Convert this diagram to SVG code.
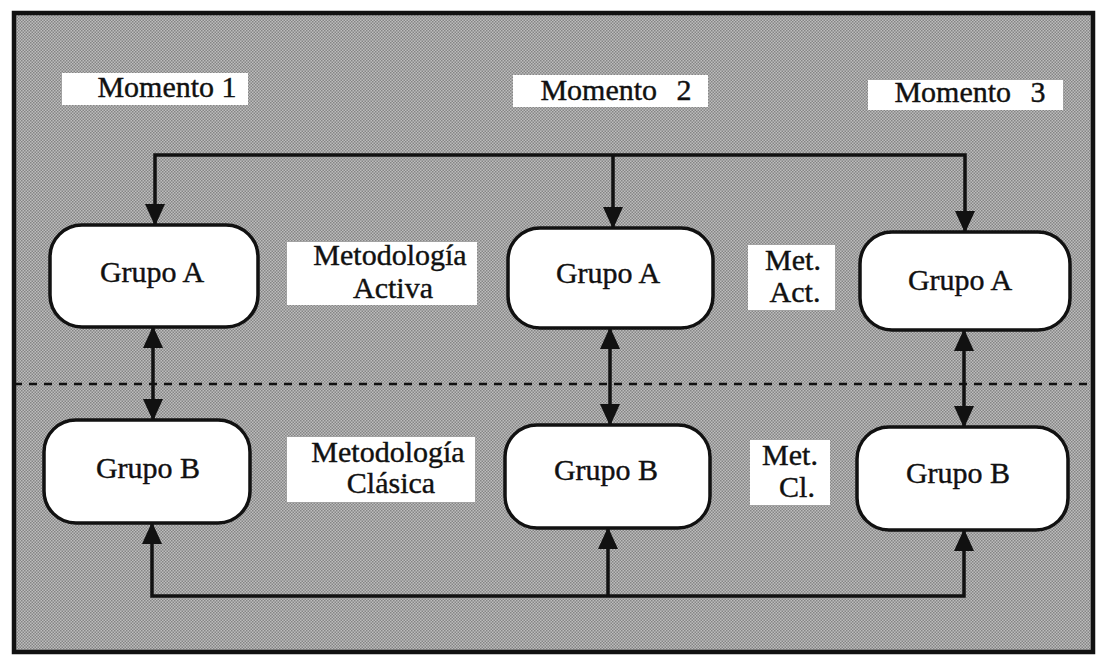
<svg xmlns="http://www.w3.org/2000/svg" width="1097" height="656" viewBox="0 0 1097 656">
<style>
.txt{font-family:"Liberation Serif","Times New Roman",serif;font-size:30px;fill:#111;stroke:#111;stroke-width:0.4;text-anchor:middle}
.node{fill:#fff;stroke:#111;stroke-width:3.5}
.lab{fill:#fff}
.con{fill:none;stroke:#111;stroke-width:3.5}
</style>
<defs>
<pattern id="ht" width="3" height="3" patternUnits="userSpaceOnUse">
<rect width="3" height="3" fill="#bdbdbd"/>
<rect width="1.5" height="1.5" fill="#858585"/>
<rect x="1.5" y="1.5" width="1.5" height="1.5" fill="#858585"/>
</pattern>
<marker id="ah" viewBox="0 0 22 20" refX="21" refY="10" markerWidth="22" markerHeight="20" markerUnits="userSpaceOnUse" orient="auto-start-reverse">
<path d="M0,0 L22,10 L0,20 Z" fill="#111"/>
</marker>
</defs>
<rect width="1097" height="656" fill="#fff"/>
<rect x="14" y="13" width="1079" height="639" fill="url(#ht)" stroke="#111" stroke-width="4.5"/>

<g id="labels">
<g id="momento1"><rect class="lab" x="62" y="73" width="186" height="32"/><text class="txt" x="167" y="97">Momento 1</text></g>
<g id="momento2"><rect class="lab" x="513" y="75" width="195" height="32"/><text class="txt" x="616" y="100" word-spacing="12">Momento 2</text></g>
<g id="momento3"><rect class="lab" x="868" y="80" width="195" height="30"/><text class="txt" x="970" y="102" word-spacing="12">Momento 3</text></g>
<g id="metActiva"><rect class="lab" x="287" y="242" width="190" height="63"/><text class="txt" x="390" y="265">Metodología</text><text class="txt" x="393" y="298">Activa</text></g>
<g id="metClasica"><rect class="lab" x="287" y="437" width="188" height="65"/><text class="txt" x="388" y="462">Metodología</text><text class="txt" x="391" y="493">Clásica</text></g>
<g id="metAct"><rect class="lab" x="748" y="245" width="87" height="65"/><text class="txt" x="793" y="270">Met.</text><text class="txt" x="795" y="302">Act.</text></g>
<g id="metCl"><rect class="lab" x="750" y="440" width="80" height="65"/><text class="txt" x="790" y="465">Met.</text><text class="txt" x="797" y="497">Cl.</text></g>
</g>

<line x1="14" y1="384" x2="1093" y2="384" stroke="#111" stroke-width="2.5" stroke-dasharray="8,7"/>

<g id="connectors">
<path class="con" d="M155,225 V155 H965 V232" marker-start="url(#ah)" marker-end="url(#ah)"/>
<line class="con" x1="613" y1="155" x2="613" y2="228" marker-end="url(#ah)"/>
<path class="con" d="M152,523 V596 H964 V530" marker-start="url(#ah)" marker-end="url(#ah)"/>
<line class="con" x1="608" y1="596" x2="608" y2="528" marker-end="url(#ah)"/>
<line class="con" x1="153" y1="327" x2="153" y2="420" marker-start="url(#ah)" marker-end="url(#ah)"/>
<line class="con" x1="610" y1="328" x2="610" y2="425" marker-start="url(#ah)" marker-end="url(#ah)"/>
<line class="con" x1="964" y1="330" x2="964" y2="427" marker-start="url(#ah)" marker-end="url(#ah)"/>
</g>

<g id="grupoA1"><rect class="node" x="50" y="225" width="208" height="102" rx="32"/><text class="txt" x="152" y="282">Grupo A</text></g>
<g id="grupoA2"><rect class="node" x="508" y="228" width="205" height="100" rx="32"/><text class="txt" x="608" y="283">Grupo A</text></g>
<g id="grupoA3"><rect class="node" x="860" y="232" width="210" height="98" rx="32"/><text class="txt" x="960" y="290">Grupo A</text></g>
<g id="grupoB1"><rect class="node" x="44" y="420" width="206" height="103" rx="32"/><text class="txt" x="148" y="478">Grupo B</text></g>
<g id="grupoB2"><rect class="node" x="505" y="425" width="205" height="103" rx="32"/><text class="txt" x="606" y="480">Grupo B</text></g>
<g id="grupoB3"><rect class="node" x="857" y="427" width="211" height="103" rx="32"/><text class="txt" x="958" y="483">Grupo B</text></g>
</svg>
